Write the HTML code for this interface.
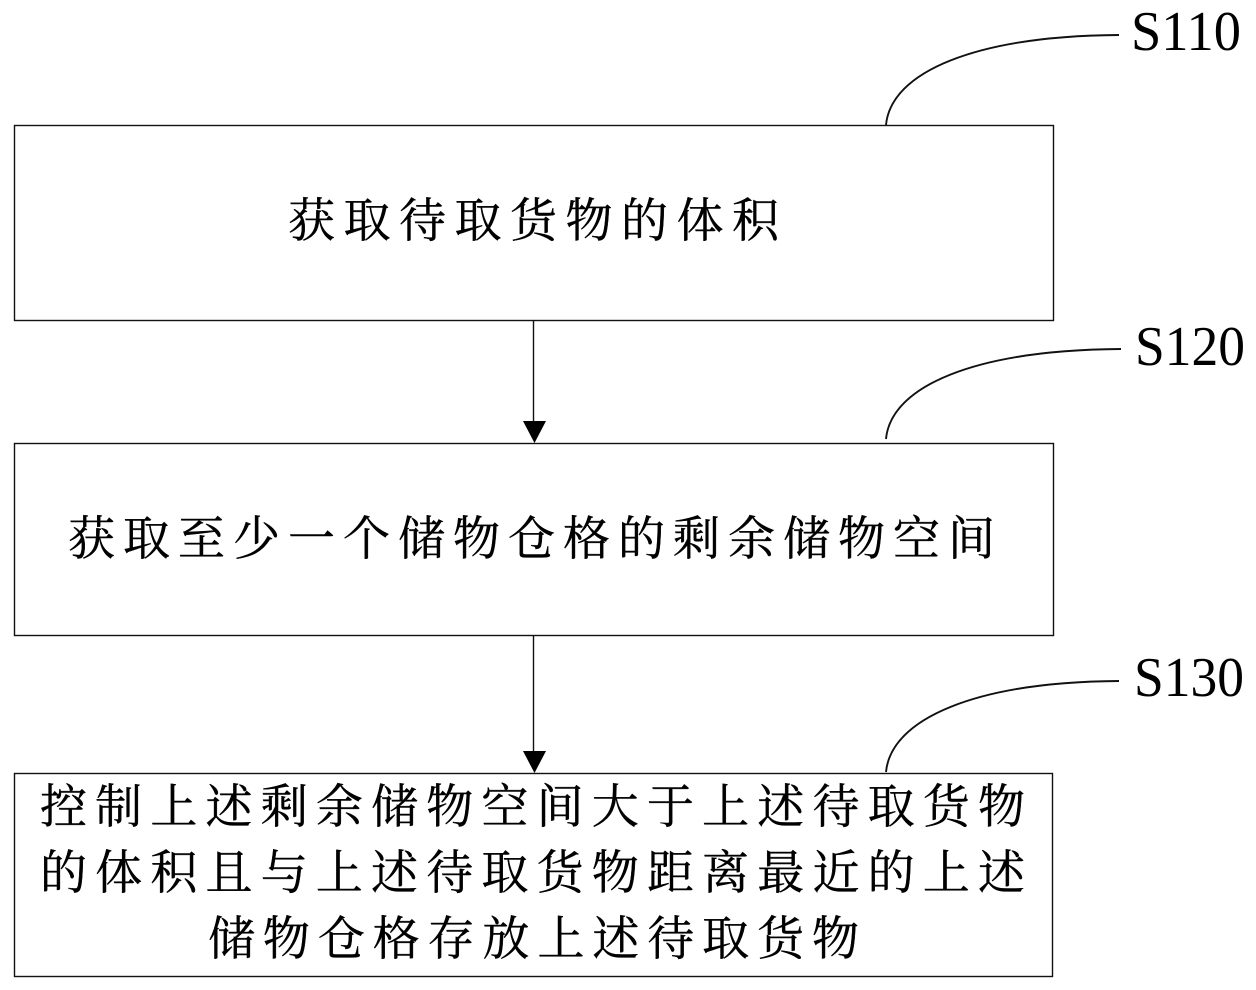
<!DOCTYPE html>
<html>
<head>
<meta charset="utf-8">
<style>
html,body{margin:0;padding:0;background:#fff;width:1256px;height:990px;overflow:hidden}
svg{display:block}
text{fill:#000}
.z{font-family:"Noto Serif CJK SC","Liberation Serif",serif;font-size:47px;stroke:#000;stroke-width:.4}
.s{font-family:"Liberation Serif",serif;font-size:56px}
</style>
</head>
<body>
<svg width="1256" height="990" viewBox="0 0 1256 990" xmlns="http://www.w3.org/2000/svg">
<rect width="1256" height="990" fill="#fff"/>
<g fill="none" stroke="#111" stroke-width="1.4">
<rect x="14.5" y="125.5" width="1039" height="195"/>
<rect x="14.5" y="443.5" width="1039" height="192"/>
<rect x="14.5" y="773.5" width="1038" height="203"/>
<path d="M533.5 321V424"/>
<path d="M533.5 636V754"/>
</g>
<g fill="none" stroke="#111" stroke-width="1.9">
<path d="M886 125C891 72 975 36 1119 35"/>
<path d="M886 439C891 386 975 350 1121 349"/>
<path d="M886 772C891 719 975 682 1119 681"/>
</g>
<polygon points="523,421 546,421 534.5,443" fill="#000"/>
<polygon points="523,751 546,751 534.5,773" fill="#000"/>
<text class="s" x="1131" y="50" textLength="110" lengthAdjust="spacingAndGlyphs">S110</text>
<text class="s" x="1135" y="365" textLength="110" lengthAdjust="spacingAndGlyphs">S120</text>
<text class="s" x="1134" y="696" textLength="110" lengthAdjust="spacingAndGlyphs">S130</text>
<text class="z" x="288" y="237" textLength="491">获取待取货物的体积</text>
<text class="z" x="68" y="555" textLength="927">获取至少一个储物仓格的剩余储物空间</text>
<text class="z" x="40" y="823" textLength="985">控制上述剩余储物空间大于上述待取货物</text>
<text class="z" x="40" y="889" textLength="985">的体积且与上述待取货物距离最近的上述</text>
<text class="z" x="208" y="955" textLength="651">储物仓格存放上述待取货物</text>
</svg>
</body>
</html>
